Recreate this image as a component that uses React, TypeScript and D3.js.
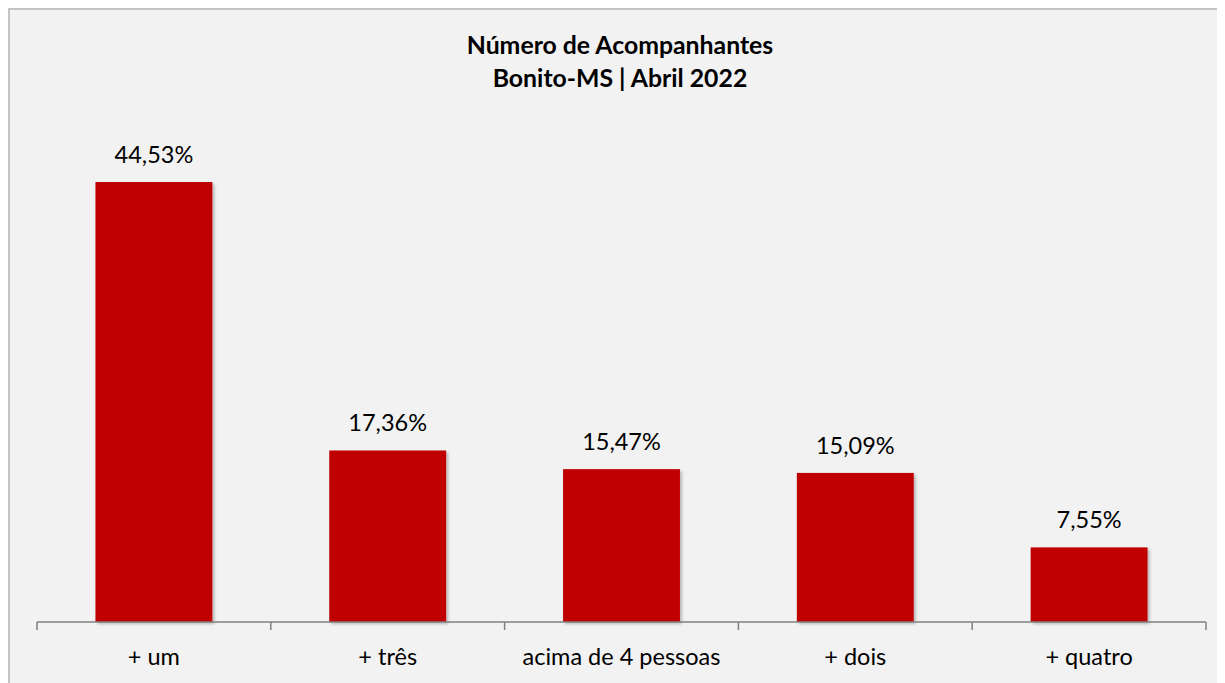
import React from "react";
import * as d3 from "d3";

const categories = ["+ um", "+ três", "acima de 4 pessoas", "+ dois", "+ quatro"];
const values = [44.53, 17.36, 15.47, 15.09, 7.55];
const titleLines = ["Número de Acompanhantes", "Bonito-MS | Abril 2022"];

const W = 1217;
const H = 675;
const FONT = "Lato, 'Open Sans', sans-serif";

export default function App() {
  const x = d3.scaleBand<string>().domain(categories).range([29, 1198]).paddingInner(0.5).paddingOuter(0.25);
  const y = d3.scaleLinear().domain([0, 50]).range([614, 120]);
  const outer = d3.scaleBand<string>().domain(categories).range([29, 1198]);
  const fmt = (v: number) => v.toFixed(2).replace(".", ",") + "%";
  const tickXs = [...categories.map((c) => outer(c)!), 1198];
  return (
    <svg width={W} height={H} style={{ display: "block" }}>
      <defs>
        <filter id="sh" x="-10%" y="-10%" width="130%" height="130%">
          <feDropShadow dx="2" dy="2" stdDeviation="1.5" floodColor="#000" floodOpacity="0.25" />
        </filter>
      </defs>
      <rect x={1} y={1} width={1400} height={900} fill="#f2f2f2" stroke="#c4c4c4" strokeWidth={2} />
      {titleLines.map((t, i) => (
        <text key={i} x={612} y={46 + i * 33} textAnchor="middle" fontFamily={FONT} fontWeight="bold" fontSize={24.8} fill="#000">
          {t}
        </text>
      ))}
      {categories.map((c, i) => (
        <g key={c}>
          <rect x={x(c)} y={y(values[i])} width={x.bandwidth()} height={y(0) - y(values[i])} fill="#c00000" filter="url(#sh)" />
          <text x={x(c)! + x.bandwidth() / 2} y={y(values[i]) - 19} textAnchor="middle" fontFamily={FONT} fontSize={23.5} fill="#000">
            {fmt(values[i])}
          </text>
          <text x={outer(c)! + outer.bandwidth() / 2} y={657} textAnchor="middle" fontFamily={FONT} fontSize={23.5} fill="#000">
            {c}
          </text>
        </g>
      ))}
      <line x1={29} x2={1198} y1={614} y2={614} stroke="#808080" strokeWidth={1.5} />
      {tickXs.map((t, i) => (
        <line key={i} x1={t} x2={t} y1={614} y2={622} stroke="#808080" strokeWidth={1.5} />
      ))}
    </svg>
  );
}
